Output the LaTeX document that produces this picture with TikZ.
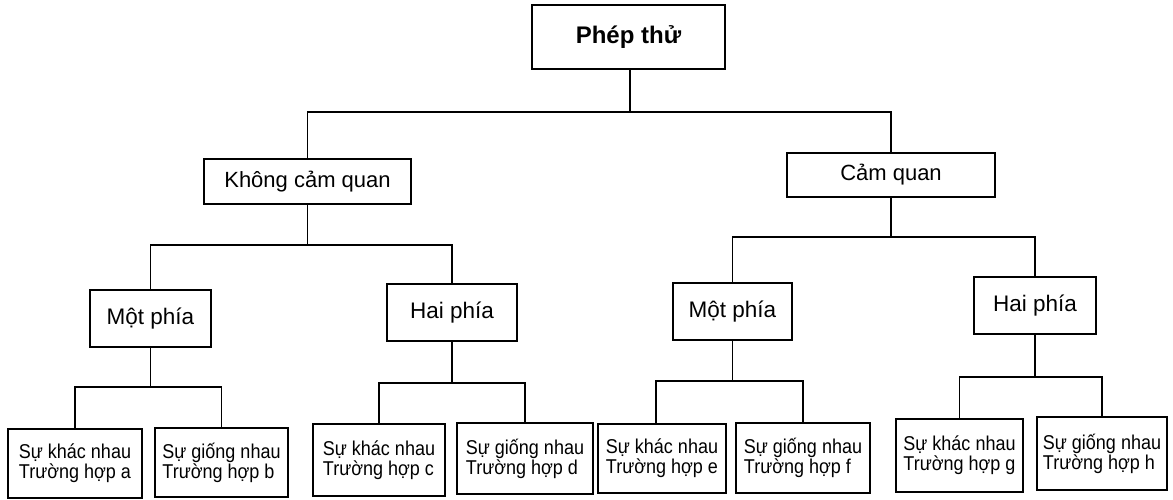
\documentclass[tikz,border=0pt]{standalone}
\usepackage{fontspec}
\setmainfont{Liberation Sans}
\newfontfamily\leaffont[FakeStretch=0.9]{Liberation Sans}
\begin{document}
\begin{tikzpicture}[x=1pt,y=-1pt,
  box/.style={draw=black,line width=1.7pt,inner sep=0pt,fill=white},
  topbox/.style={box,font=\fontsize{24}{28}\selectfont\bfseries},
  lvone/.style={box,font=\fontsize{22}{26}\selectfont},
  lvtwo/.style={box,font=\fontsize{22.5}{26}\selectfont},
  leaf/.style={box,align=left,font=\leaffont\fontsize{20}{20}\selectfont},
  conn/.style={draw=black,line width=1.7pt}]
\useasboundingbox (0,0) rectangle (1173,500);
% nodes
\node[topbox,minimum width=193pt,minimum height=64pt] (root) at (628.5,37) {Phép thử};
\node[lvone,minimum width=207pt,minimum height=45pt] (knq) at (307.5,181.5) {Không cảm quan};
\node[lvone,minimum width=208pt,minimum height=44pt] (cq) at (891,175) {Cảm quan};
\node[lvtwo,minimum width=121pt,minimum height=57pt] (m1) at (150.5,318.5) {Một phía};
\node[lvtwo,minimum width=130pt,minimum height=57pt] (h1) at (452,312.5) {Hai phía};
\node[lvtwo,minimum width=119pt,minimum height=57pt] (m2) at (732.5,311.5) {Một phía};
\node[lvtwo,minimum width=122pt,minimum height=57pt] (h2) at (1035,305.5) {Hai phía};
\node[leaf,minimum width=134pt,minimum height=69pt] (a) at (75,463.5) {Sự khác nhau\\Trường hợp a};
\node[leaf,minimum width=133pt,minimum height=69pt] (b) at (221.5,462.5) {Sự giống nhau\\Trường hợp b};
\node[leaf,minimum width=132pt,minimum height=72pt] (c) at (379,460) {Sự khác nhau\\Trường hợp c};
\node[leaf,minimum width=136pt,minimum height=71pt] (d) at (525,458.5) {Sự giống nhau\\Trường hợp d};
\node[leaf,minimum width=128pt,minimum height=69pt] (e) at (662,458.5) {Sự khác nhau\\Trường hợp e};
\node[leaf,minimum width=134pt,minimum height=70pt] (f) at (803,458) {Sự giống nhau\\Trường hợp f};
\node[leaf,minimum width=127pt,minimum height=73pt] (g) at (959.5,455.5) {Sự khác nhau\\Trường hợp g};
\node[leaf,minimum width=130pt,minimum height=73pt] (h) at (1102,453.5) {Sự giống nhau\\Trường hợp h};
% bus coordinates
\coordinate (b0) at (630,112);
\coordinate (b1) at (307.5,245);
\coordinate (b2) at (891,237);
\coordinate (b3) at (150.5,387);
\coordinate (b4) at (452,383);
\coordinate (b5) at (732.5,381);
\coordinate (b6) at (1035,377);
% connectors
\draw[conn] (root.south -| b0) -- (b0);
\draw[conn] (knq.north) |- (b0) -| (cq.north);
\draw[conn] (knq.south) -- (b1);
\draw[conn] (m1.north) |- (b1) -| (h1.north);
\draw[conn] (cq.south) -- (b2);
\draw[conn] (m2.north) |- (b2) -| (h2.north);
\draw[conn] (m1.south) -- (b3);
\draw[conn] (a.north) |- (b3) -| (b.north);
\draw[conn] (h1.south) -- (b4);
\draw[conn] (c.north) |- (b4) -| (d.north);
\draw[conn] (m2.south) -- (b5);
\draw[conn] ([xshift=-6pt]e.north) |- (b5) -| (f.north);
\draw[conn] (h2.south) -- (b6);
\draw[conn] (g.north) |- (b6) -| (h.north);
\end{tikzpicture}
\end{document}
